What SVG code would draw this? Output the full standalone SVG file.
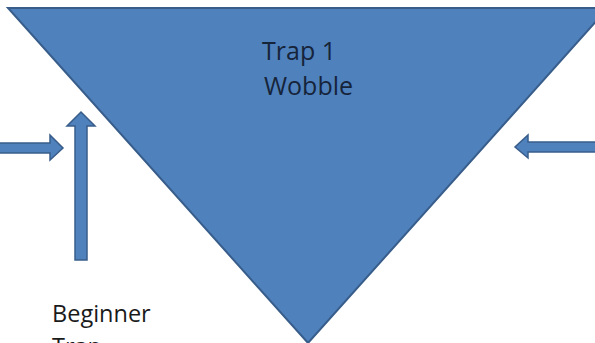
<svg xmlns="http://www.w3.org/2000/svg" width="595" height="343" viewBox="0 0 595 343">
<style>
.shape{fill:#4F81BD;stroke:#385D8A;stroke-width:2;stroke-linejoin:miter}
.arrow{fill:#4F81BD;stroke:#385D8A;stroke-width:1.5}
.lbl{font-family:"Open Sans","Liberation Sans",sans-serif;font-size:25px}
.lbl2{font-family:"Open Sans","Liberation Sans",sans-serif;font-size:23.5px}
</style>
<rect width="595" height="343" fill="#ffffff"/>
<g id="trap1">
<polygon class="shape" points="8,8 608,8 308,343"/>
<text class="lbl" x="262" y="60" fill="#16243a">Trap 1</text>
<text class="lbl" x="264" y="95" fill="#16243a">Wobble</text>
</g>
<g id="beginner-trap">
<text class="lbl2" x="52" y="322" fill="#1a1a1a">Beginner</text>
<text class="lbl2" x="52" y="355" fill="#1a1a1a">Trap</text>
</g>
<g id="connectors">
<polygon class="arrow" points="-2,143 50,143 50,135 63,148 50,160 50,153 -2,153"/>
<polygon class="arrow" points="75,260 75,126 67,126 81,112 95,126 87,126 87,260"/>
<polygon class="arrow" points="597,142 528,142 528,135 515,147 528,158 528,152 597,152"/>
</g>
</svg>
